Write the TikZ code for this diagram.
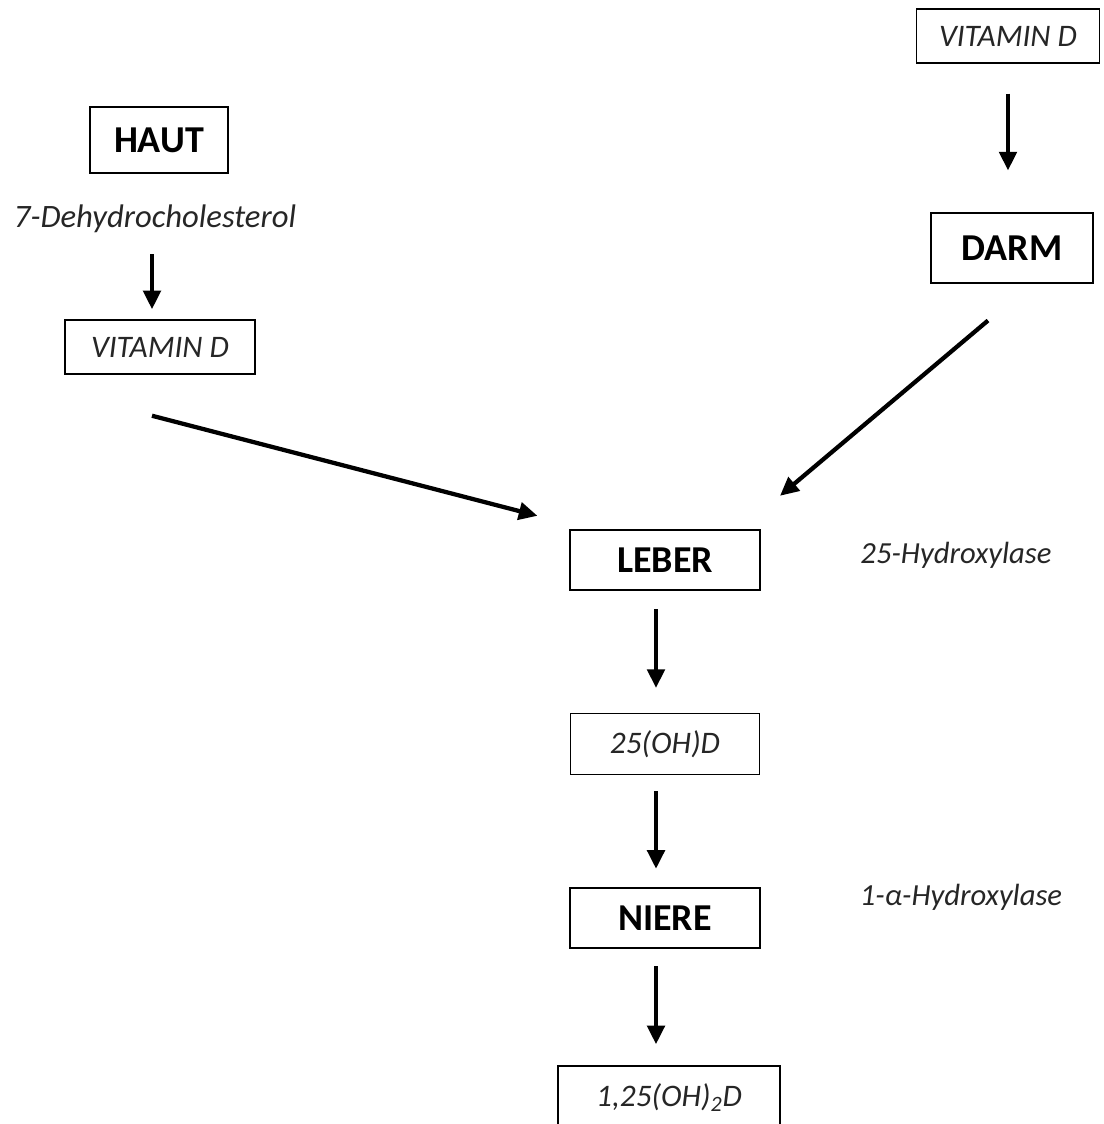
\documentclass[tikz,border=0pt]{standalone}
\usepackage{fontspec}
\setmainfont{Carlito}
\usetikzlibrary{positioning, arrows.meta, calc}

\begin{document}
\begin{tikzpicture}[x=0.75pt, y=-0.75pt,
  organ/.style={draw, line width=1.3pt, inner sep=0pt,
    font=\fontsize{28.5}{30}\selectfont\bfseries},
  stoff/.style={draw, line width=1.1pt, inner sep=0pt, text=black!85,
    font=\fontsize{23.5}{26}\selectfont\itshape},
  enzym/.style={inner sep=2pt, text=black!85,
    font=\fontsize{23}{26}\selectfont\itshape},
  pfeil/.style={-{Triangle[length=14pt, width=13pt]}, line width=3.2pt}]
  \useasboundingbox (0,0) rectangle (1103,1124);
  \clip (0,0) rectangle (1103,1124);
  % Haut (links)
  \node[organ, minimum width=103.5pt, minimum height=49.5pt] (haut) at (159,140) {HAUT};
  \node[enzym, font=\fontsize{24.5}{26}\selectfont\itshape] (dehydro) at (155,219) {7-Dehydrocholesterol};
  \node[stoff, minimum width=142.5pt, minimum height=40.5pt] (vitl) at (160,347) {VITAMIN D};
  % Darm (rechts)
  \node[stoff, minimum width=137pt, minimum height=40.5pt] (vitr) at (1008,36) {VITAMIN D};
  \node[organ, minimum width=121pt, minimum height=52pt] (darm) at (1012,248) {DARM};
  % Leber und Niere
  \node[organ, minimum width=142pt, minimum height=45.5pt] (leber) at (665,560) {LEBER};
  \node[enzym] (hydr25) at (956,555) {25-Hydroxylase};
  \node[stoff, minimum width=142pt, minimum height=45.5pt] (ohd) at (665,744) {25(OH)D};
  \node[organ, minimum width=142pt, minimum height=45.5pt] (niere) at (665,918) {NIERE};
  \node[enzym] (hydr1) at (961,897) {1-α-Hydroxylase};
  \node[stoff, minimum width=166.5pt, minimum height=48pt] (calcitriol) at (669,1098) {1,25(OH)\textsubscript{2}D};
  % Pfeile
  \draw[pfeil] ($(vitl.north)+(-8,-65)$) -- ($(vitl.north)+(-8,-10)$);
  \draw[pfeil] ($(vitr.south)+(0,30)$) -- ($(darm.north)+(-4,-42)$);
  \draw[pfeil] ($(vitl.south)+(-8,41)$) -- ($(leber.north west)+(-32,-13)$);
  \draw[pfeil] ($(darm.south)+(-24,37)$) -- ($(leber.north)+(115,-33)$);
  \draw[pfeil] ($(leber.south)+(-9,18)$) -- ($(ohd.north)+(-9,-25)$);
  \draw[pfeil] ($(ohd.south)+(-9,16)$) -- ($(niere.north)+(-9,-18)$);
  \draw[pfeil] ($(niere.south)+(-9,17)$) -- ($(calcitriol.north)+(-13,-21)$);
\end{tikzpicture}
\end{document}
